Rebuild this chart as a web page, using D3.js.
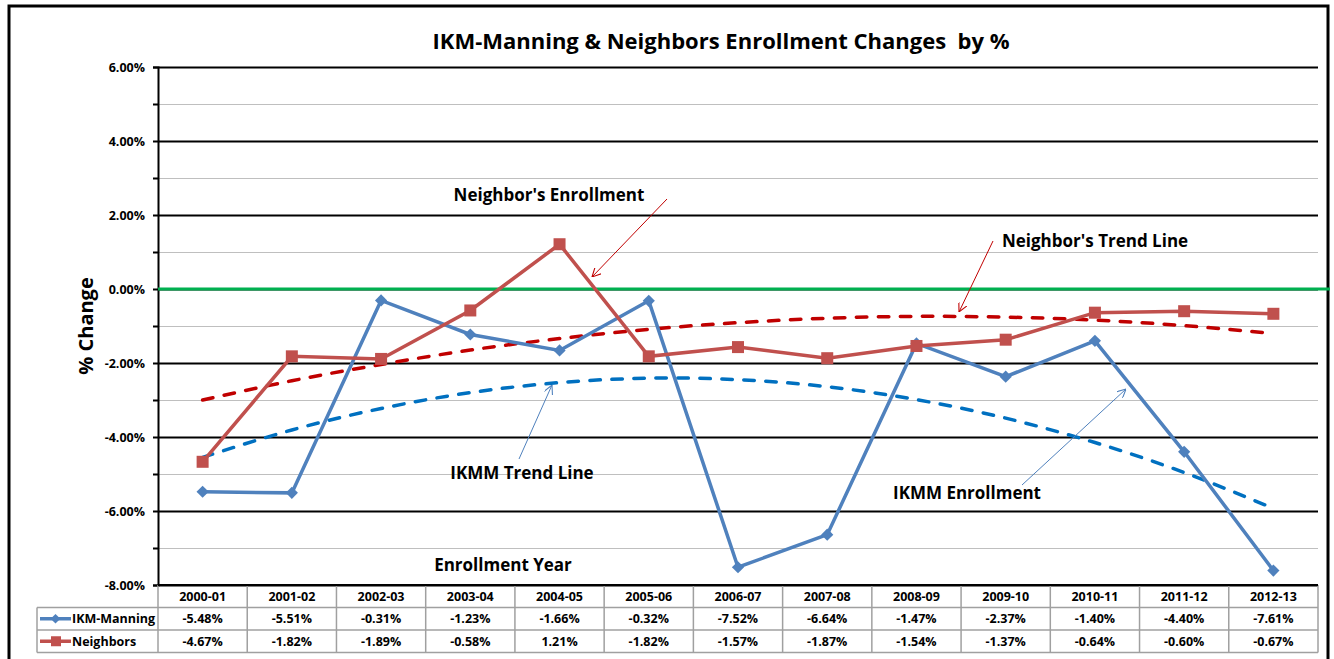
<!DOCTYPE html>
<html>
<head>
<meta charset="utf-8">
<script src="https://cdn.jsdelivr.net/npm/d3@7"></script>
<style>
  body { margin: 0; background: #fff; }
  svg { font-family: "Open Sans", Lato, sans-serif; font-weight: bold; }
</style>
</head>
<body>
<script>
// chart data
const years = ["2000-01","2001-02","2002-03","2003-04","2004-05","2005-06","2006-07",
               "2007-08","2008-09","2009-10","2010-11","2011-12","2012-13"];
const ikmManning = [-5.48,-5.51,-0.31,-1.23,-1.66,-0.32,-7.52,-6.64,-1.47,-2.37,-1.40,-4.40,-7.61];
const neighbors = [-4.67,-1.82,-1.89,-0.58,1.21,-1.82,-1.57,-1.87,-1.54,-1.37,-0.64,-0.60,-0.67];
// trend lines
const ikmTrend = [-4.55,-3.81,-3.23,-2.80,-2.53,-2.41,-2.45,-2.64,-2.99,-3.49,-4.15,-4.96,-5.93];
const nbTrend = [-3.00,-2.48,-2.04,-1.65,-1.34,-1.09,-0.91,-0.79,-0.74,-0.76,-0.84,-0.99,-1.20];
const majorTicks = [-8,-6,-4,-2,0,2,4,6];
const minorTicks = [-7,-5,-3,-1,1,3,5];

const W = 1334, H = 659;
const pLeft = 158, pRight = 1318, pTop = 67, pBottom = 585;

const svg = d3.select("body").append("svg")
    .attr("width", W)
    .attr("height", H);

// outer chart border
svg.append("rect")
    .attr("x", 9).attr("y", 6)
    .attr("width", 1319).attr("height", 660)
    .attr("fill", "none")
    .attr("stroke", "#000")
    .attr("stroke-width", 3);

const x = d3.scaleBand().domain(years).range([pLeft, pRight]).padding(0);
const cx = d => x(d) + x.bandwidth() / 2;
const y = d3.scaleLinear().domain([-8, 6]).range([pBottom, pTop]);

// minor grid
svg.append("g")
    .attr("transform", `translate(${pLeft},0)`)
    .call(d3.axisLeft(y).tickValues(minorTicks).tickSize(-(pRight - pLeft)).tickFormat(""))
    .call(g => g.select(".domain").remove())
    .call(g => g.selectAll("line").attr("stroke", "#bfbfbf").attr("stroke-width", 1));

// major grid
svg.append("g")
    .attr("transform", `translate(${pLeft},0)`)
    .call(d3.axisLeft(y).tickValues(majorTicks).tickSize(-(pRight - pLeft)).tickFormat(""))
    .call(g => g.select(".domain").remove())
    .call(g => g.selectAll("line").attr("stroke", "#000").attr("stroke-width", 2));

// y axis with labels
svg.append("g")
    .attr("transform", `translate(${pLeft},0)`)
    .call(d3.axisLeft(y).tickValues(majorTicks).tickSize(5).tickPadding(8)
        .tickFormat(d => d.toFixed(2) + "%"))
    .call(g => g.select(".domain").attr("stroke", "#000").attr("stroke-width", 2))
    .call(g => g.selectAll("line").attr("stroke", "#000").attr("stroke-width", 2))
    .call(g => g.selectAll("text")
        .attr("fill", "#000")
        .attr("font-size", 12.5)
        .attr("font-weight", "bold")
        .attr("font-family", "'Open Sans', sans-serif"));

svg.append("g")
    .attr("transform", `translate(${pLeft},0)`)
    .call(d3.axisLeft(y).tickValues(minorTicks).tickSize(5).tickFormat(""))
    .call(g => g.select(".domain").remove())
    .call(g => g.selectAll("line").attr("stroke", "#000").attr("stroke-width", 2));

// zero line (green)
svg.append("line")
    .attr("x1", pLeft).attr("x2", 1330)
    .attr("y1", y(0)).attr("y2", y(0))
    .attr("stroke", "#00b050")
    .attr("stroke-width", 3);

// trend lines
const trendLine = d3.line()
    .x((d, i) => cx(years[i]))
    .y(d => y(d))
    .curve(d3.curveNatural);

svg.append("path")
    .datum(ikmTrend)
    .attr("d", trendLine)
    .attr("fill", "none")
    .attr("stroke", "#0070c0")
    .attr("stroke-width", 3.5)
    .attr("stroke-linecap", "round")
    .attr("stroke-dasharray", "10.5,11.5");

svg.append("path")
    .datum(nbTrend)
    .attr("d", trendLine)
    .attr("fill", "none")
    .attr("stroke", "#c00000")
    .attr("stroke-width", 3.5)
    .attr("stroke-linecap", "round")
    .attr("stroke-dasharray", "10.5,11.5");

// data series
const line = d3.line()
    .x((d, i) => cx(years[i]))
    .y(d => y(d));

svg.append("path")
    .datum(ikmManning)
    .attr("d", line)
    .attr("fill", "none")
    .attr("stroke", "#4f81bd")
    .attr("stroke-width", 3.5);

svg.append("path")
    .datum(neighbors)
    .attr("d", line)
    .attr("fill", "none")
    .attr("stroke", "#c0504d")
    .attr("stroke-width", 3.5);

const diamond = d3.symbol().type(d3.symbolDiamond2).size(95);
svg.selectAll("path.ikm")
    .data(ikmManning)
    .enter().append("path")
    .attr("class", "ikm")
    .attr("transform", (d, i) => `translate(${cx(years[i])},${y(d)})`)
    .attr("d", diamond)
    .attr("fill", "#4f81bd");

svg.selectAll("rect.nb")
    .data(neighbors)
    .enter().append("rect")
    .attr("class", "nb")
    .attr("x", (d, i) => cx(years[i]) - 6)
    .attr("y", d => y(d) - 6)
    .attr("width", 12).attr("height", 12)
    .attr("fill", "#c0504d");

// title and axis title
svg.append("text")
    .attr("x", 721).attr("y", 49)
    .attr("text-anchor", "middle")
    .attr("font-size", 22)
    .style("white-space", "pre")
    .text("IKM-Manning & Neighbors Enrollment Changes  by %");

svg.append("text")
    .attr("transform", `translate(93,${y(-1)}) rotate(-90)`)
    .attr("text-anchor", "middle")
    .attr("font-size", 20)
    .text("% Change");

// annotations
const defs = svg.append("defs");
[["arRed", "#c00000"], ["arBlue", "#4f81bd"]].forEach(([id, c]) => {
    defs.append("marker")
        .attr("id", id)
        .attr("viewBox", "0 0 10 10")
        .attr("refX", 10).attr("refY", 5)
        .attr("markerWidth", 9).attr("markerHeight", 9)
        .attr("markerUnits", "userSpaceOnUse")
        .attr("orient", "auto")
        .append("path")
        .attr("d", "M0,0 L10,5 L0,10")
        .attr("fill", "none")
        .attr("stroke", c)
        .attr("stroke-width", 1.2);
});

const notes = [
    {t: "Neighbor's Enrollment", x: 549, y: 201},
    {t: "Neighbor's Trend Line", x: 1095, y: 247},
    {t: "IKMM Trend Line", x: 522, y: 479},
    {t: "IKMM Enrollment", x: 967, y: 499},
    {t: "Enrollment Year", x: 503, y: 571}
];
svg.selectAll("text.note")
    .data(notes)
    .enter().append("text")
    .attr("class", "note")
    .attr("x", d => d.x).attr("y", d => d.y)
    .attr("text-anchor", "middle")
    .attr("font-size", 17)
    .text(d => d.t);

const arrows = [
    {x1: 667, y1: 199, x2: 592, y2: 277, m: "arRed"},
    {x1: 993, y1: 241, x2: 959, y2: 312, m: "arRed"},
    {x1: 519, y1: 459, x2: 552, y2: 385, m: "arBlue"},
    {x1: 1022, y1: 485, x2: 1126, y2: 389, m: "arBlue"}
];
svg.selectAll("line.arrow")
    .data(arrows)
    .enter().append("line")
    .attr("class", "arrow")
    .attr("x1", d => d.x1).attr("y1", d => d.y1)
    .attr("x2", d => d.x2).attr("y2", d => d.y2)
    .attr("stroke", d => d.m == "arRed" ? "#c00000" : "#4f81bd")
    .attr("stroke-width", 1)
    .attr("marker-end", d => `url(#${d.m})`);

// data table
const rowH = 22.5;
const tbl = svg.append("g");
const rows = [
    {name: "IKM-Manning", vals: ikmManning, color: "#4f81bd", key: "diamond"},
    {name: "Neighbors", vals: neighbors, color: "#c0504d", key: "square"}
];
const tLeft = 37;
const tBottom = pBottom + rowH * 3;

// grid of the table
[1, 2, 3].forEach(r => {
    tbl.append("line")
        .attr("x1", tLeft).attr("x2", pRight)
        .attr("y1", pBottom + rowH * r).attr("y2", pBottom + rowH * r)
        .attr("stroke", "#a0a0a0").attr("stroke-width", 1.5);
});
tbl.selectAll("line.col")
    .data(years.slice(1).concat(["end"]))
    .enter().append("line")
    .attr("class", "col")
    .attr("x1", d => d == "end" ? pRight : x(d))
    .attr("x2", d => d == "end" ? pRight : x(d))
    .attr("y1", pBottom).attr("y2", tBottom)
    .attr("stroke", "#a0a0a0").attr("stroke-width", 1.5);
tbl.append("line").attr("x1", pLeft).attr("x2", pLeft).attr("y1", pBottom).attr("y2", tBottom)
    .attr("stroke", "#a0a0a0").attr("stroke-width", 1.5);
tbl.append("line").attr("x1", tLeft).attr("x2", tLeft).attr("y1", pBottom + rowH).attr("y2", tBottom)
    .attr("stroke", "#a0a0a0").attr("stroke-width", 1.5);
tbl.append("line").attr("x1", pLeft).attr("x2", pRight).attr("y1", pBottom).attr("y2", pBottom)
    .attr("stroke", "#000").attr("stroke-width", 2);

tbl.selectAll("text.hdr")
    .data(years)
    .enter().append("text")
    .attr("class", "hdr")
    .attr("x", d => cx(d))
    .attr("y", pBottom + rowH / 2 + 4.5)
    .attr("text-anchor", "middle")
    .attr("font-size", 12.5)
    .text(d => d);

rows.forEach((r, ri) => {
    const ry = pBottom + rowH * (ri + 1);
    tbl.selectAll(null)
        .data(r.vals)
        .enter().append("text")
        .attr("x", (d, i) => cx(years[i]))
        .attr("y", ry + rowH / 2 + 4.5)
        .attr("text-anchor", "middle")
        .attr("font-size", 12.5)
        .text(d => d.toFixed(2) + "%");
    // legend key
    tbl.append("line")
        .attr("x1", 40).attr("x2", 71)
        .attr("y1", ry + rowH / 2).attr("y2", ry + rowH / 2)
        .attr("stroke", r.color).attr("stroke-width", 3.5);
    if (r.key == "diamond") {
        tbl.append("path")
            .attr("transform", `translate(55.5,${ry + rowH / 2})`)
            .attr("d", d3.symbol().type(d3.symbolDiamond2).size(60))
            .attr("fill", r.color);
    } else {
        tbl.append("rect")
            .attr("x", 51).attr("y", ry + rowH / 2 - 5)
            .attr("width", 10).attr("height", 10)
            .attr("fill", r.color);
    }
    tbl.append("text")
        .attr("x", 72)
        .attr("y", ry + rowH / 2 + 4.5)
        .attr("font-size", 12.5)
        .text(r.name);
});
</script>
</body>
</html>
